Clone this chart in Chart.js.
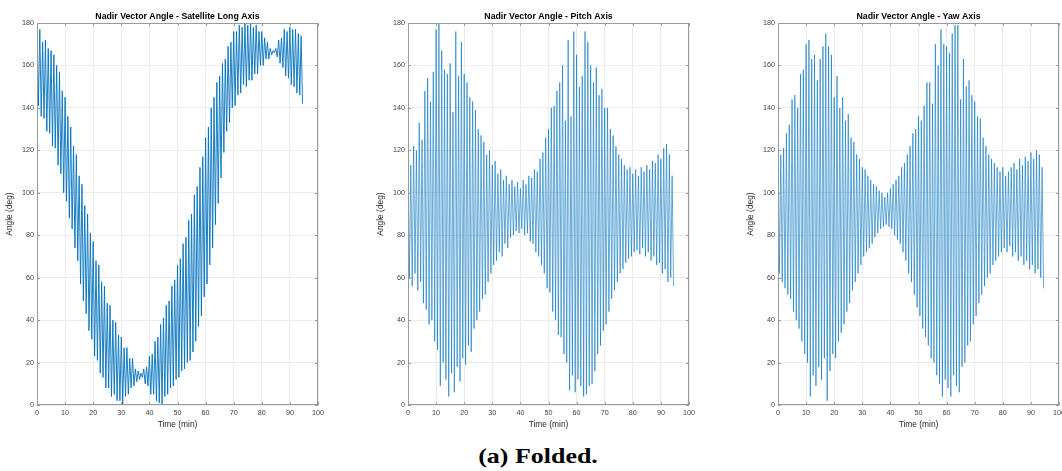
<!DOCTYPE html>
<html><head><meta charset="utf-8">
<script src="https://cdn.jsdelivr.net/npm/chart.js@4/dist/chart.umd.min.js"></script>
<style>
html,body{margin:0;padding:0;background:#fff;width:1062px;height:471px;overflow:hidden;position:relative;}
.panel{position:absolute;top:0;width:345px;height:440px;}
.panel canvas{display:block;}
#caption{position:absolute;left:388px;width:300px;top:445px;text-align:center;font-family:"Liberation Serif","Times New Roman",serif;font-weight:bold;font-size:22px;line-height:22px;color:#000;transform:scaleX(1.18);transform-origin:150px 0;white-space:nowrap;}
</style></head><body>
<div class="panel" style="left:0px"><canvas id="c0" width="345" height="440"></canvas></div>
<div class="panel" style="left:371px"><canvas id="c1" width="345" height="440"></canvas></div>
<div class="panel" style="left:741px"><canvas id="c2" width="345" height="440"></canvas></div>
<div id="caption">(a) Folded.</div>
<script>
const panelTitles = ["Nadir Vector Angle - Satellite Long Axis", "Nadir Vector Angle - Pitch Axis", "Nadir Vector Angle - Yaw Axis"];
const xTitle = "Time (min)";
const yTitle = "Angle (deg)";
const xTicks = [0,10,20,30,40,50,60,70,80,90,100];
const yTicks = [0,20,40,60,80,100,120,140,160,180];

const minutes = [
0,0.5,1,1.5,2,2.5,3,3.5,4,4.5,5,5.5,6,6.5,7,7.5,8,8.5,9,9.5,
10,10.5,11,11.5,12,12.5,13,13.5,14,14.5,15,15.5,16,16.5,17,17.5,18,18.5,19,19.5,
20,20.5,21,21.5,22,22.5,23,23.5,24,24.5,25,25.5,26,26.5,27,27.5,28,28.5,29,29.5,
30,30.5,31,31.5,32,32.5,33,33.5,34,34.5,35,35.5,36,36.5,37,37.5,38,38.5,39,39.5,
40,40.5,41,41.5,42,42.5,43,43.5,44,44.5,45,45.5,46,46.5,47,47.5,48,48.5,49,49.5,
50,50.5,51,51.5,52,52.5,53,53.5,54,54.5,55,55.5,56,56.5,57,57.5,58,58.5,59,59.5,
60,60.5,61,61.5,62,62.5,63,63.5,64,64.5,65,65.5,66,66.5,67,67.5,68,68.5,69,69.5,
70,70.5,71,71.5,72,72.5,73,73.5,74,74.5,75,75.5,76,76.5,77,77.5,78,78.5,79,79.5,
80,80.5,81,81.5,82,82.5,83,83.5,84,84.5,85,85.5,86,86.5,87,87.5,88,88.5,89,89.5,
90,90.5,91,91.5,92,92.5,93,93.5,94,94.5];

const longAxis = [
176,141,177,136,171,135,172,129,168,128,167,122,165,121,160,113,157,109,148,100,
145,96,136,88,131,83,122,74,118,68,108,57,104,49,94,43,90,35,81,31,
77,23,68,21,66,15,58,13,56,8,48,8,47,4,40,5,39,2,33,2,
32,0.5,27,4,27,5,22,8,22,9,17,11,16,12,15,13,17,10,18,9,
23,5,24,5,30,2,32,1,38,0.5,41,4,47,5,49,8,56,9,59,12,
66,13,69,16,76,17,79,20,87,21,90,25,99,30,103,37,112,42,117,51,
126,57,131,66,140,74,145,85,152,95,155,107,161,119,163,129,169,133,171,140,
176,141,176,146,179,147,178,151,180,150,179,153,180,153,178,156,179,156,176,160,
176,160,173,163,171,163,168,165,167,166,168,164,172,161,173,159,177,155,176,154,
178,151,177,150,177,147,175,146,174,142];

const pitchAxis = [
116,60,113,56,122,62,120,54,133,58,125,48,148,45,154,38,143,40,157,30,
177,26,180,9,167,20,158,12,156,4,161,15,138,6,176,18,155,11,171,22,
156,19,152,28,145,25,143,36,139,40,130,44,127,50,124,52,118,58,120,62,
113,66,115,68,109,72,111,70,106,76,108,74,104,79,106,80,103,82,105,81,
102,83,106,80,104,81,108,77,107,76,111,72,110,70,116,66,119,62,126,55,
130,53,140,44,141,40,148,33,152,32,160,24,134,20,172,7,136,14,176,6,
165,12,150,9,155,4,176,5,171,9,160,10,152,16,159,24,146,28,149,35,
140,38,140,44,130,50,127,54,122,58,118,62,116,64,113,67,111,69,112,70,
109,72,111,73,108,71,112,74,110,70,113,72,111,68,115,70,114,66,118,67,
116,62,121,64,123,58,118,60,108,56];

const yawAxis = [
125,62,118,58,121,55,128,52,132,50,144,44,146,40,140,36,156,30,158,24,
170,20,172,4,163,14,165,9,153,18,163,12,169,22,175,2,169,16,165,24,
145,22,155,30,140,34,145,38,134,44,137,48,126,54,124,58,118,62,116,66,
112,70,111,72,108,74,106,76,104,79,103,81,101,83,100,84,98,85,100,84,
102,83,104,80,106,78,108,76,112,72,114,68,118,62,122,58,128,52,130,46,
136,42,134,36,141,32,152,28,152,22,142,20,170,14,160,10,177,4,170,12,
169,8,166,4,175,14,179,9,179,6,144,18,163,20,150,28,153,30,146,38,
143,42,136,48,135,52,126,56,122,60,118,62,116,66,114,68,112,70,110,72,
112,74,108,72,110,75,112,70,114,72,111,68,116,70,113,66,117,68,115,64,
119,66,116,62,120,64,118,60,112,55];

const seriesList = [longAxis, pitchAxis, yawAxis];
const lineWidths = [0.9, 0.6, 0.6];

const FONT = "'Liberation Sans', Arial, Helvetica, sans-serif";

const boxPlugin = {
  id: 'boxTicks',
  afterDatasetsDraw(chart) {
    const {ctx, chartArea: a, scales: {x, y}} = chart;
    const L = Math.round(a.left), R = Math.round(a.right), T = Math.round(a.top), B = Math.round(a.bottom);
    ctx.save();
    ctx.strokeStyle = '#9a9a9a';
    ctx.lineWidth = 1;
    ctx.strokeRect(L + 0.5, T + 0.5, R - L - 1, B - T - 1);
    ctx.beginPath();
    xTicks.forEach(v => {
      const px = Math.round(x.getPixelForValue(v)) + 0.5;
      ctx.moveTo(px, B); ctx.lineTo(px, B - 3);
      ctx.moveTo(px, T); ctx.lineTo(px, T + 3);
    });
    yTicks.forEach(v => {
      const py = Math.round(y.getPixelForValue(v)) + 0.5;
      ctx.moveTo(L, py); ctx.lineTo(L + 3, py);
      ctx.moveTo(R, py); ctx.lineTo(R - 3, py);
    });
    ctx.stroke();
    ctx.restore();
  }
};

seriesList.forEach((vals, idx) => {
  const pts = minutes.map((m, i) => ({x: m, y: vals[i]}));
  new Chart(document.getElementById('c' + idx), {
    type: 'line',
    data: {datasets: [{data: pts, borderColor: '#0072BD', borderWidth: lineWidths[idx], pointRadius: 0, tension: 0, fill: false}]},
    options: {
      responsive: false, animation: false, events: [],
      layout: {padding: {left: 0, right: 27, top: 0, bottom: 0}},
      plugins: {
        legend: {display: false}, tooltip: {enabled: false},
        title: {display: true, text: panelTitles[idx], fullSize: false, color: '#000',
                font: {family: FONT, size: 8.75, weight: 'bold'}, padding: {top: 11.25, bottom: 1.25}}
      },
      scales: {
        x: {
          type: 'linear', min: 0, max: 100,
          afterBuildTicks: s => { s.ticks = xTicks.map(v => ({value: v})); },
          afterFit: s => { s.height = 35; },
          grid: {color: '#ebebeb', lineWidth: 1, drawTicks: false},
          border: {display: false},
          ticks: {padding: 4, color: '#3c3c3c', font: {family: FONT, size: 7.2}, maxRotation: 0, autoSkip: false},
          title: {display: true, text: xTitle, color: '#262626', font: {family: FONT, size: 8.4}, padding: {top: 0, bottom: 10.7}}
        },
        y: {
          type: 'linear', min: 0, max: 180,
          afterBuildTicks: s => { s.ticks = yTicks.map(v => ({value: v})); },
          afterFit: s => { s.width = 37; },
          grid: {color: '#ebebeb', lineWidth: 1, drawTicks: false},
          border: {display: false},
          ticks: {padding: 3, color: '#3c3c3c', font: {family: FONT, size: 7.2}, autoSkip: false},
          title: {display: true, text: yTitle, color: '#262626', font: {family: FONT, size: 8.4}, padding: {top: 5, bottom: 0}}
        }
      }
    },
    plugins: [boxPlugin]
  });
});
</script>
</body></html>
